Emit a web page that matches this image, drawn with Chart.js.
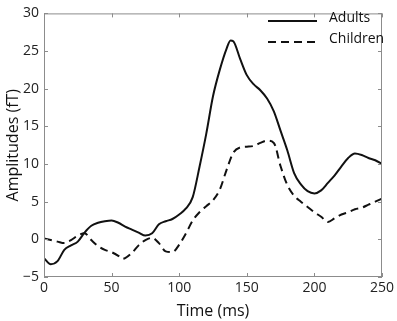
<!DOCTYPE html>
<html>
<head>
<meta charset="utf-8">
<script src="https://cdn.jsdelivr.net/npm/chart.js@4"></script>
<style>
  html, body { margin: 0; padding: 0; background: #fff; }
  #wrap { width: 397px; height: 321px; }
</style>
</head>
<body>
<div id="wrap"><canvas id="chart" width="397" height="321"></canvas></div>
<script>
// Data (time in ms, amplitude in fT)
const adultsTime = [0, 5, 10, 15, 20, 25, 30, 35, 40, 45, 50, 55, 60, 65, 70, 75, 80, 85, 90, 95, 100,
  105, 110, 115, 120, 125, 130, 135, 138, 140, 145, 150, 155, 160, 165, 170, 175, 180, 185, 190,
  195, 200, 205, 210, 215, 220, 225, 230, 235, 240, 245, 250];
const adultsAmp = [-2.5, -3.3, -2.9, -1.4, -0.8, -0.3, 0.9, 1.8, 2.2, 2.4, 2.5, 2.2, 1.7, 1.3, 0.9, 0.5, 0.8, 2.0, 2.4, 2.7, 3.3,
  4.1, 5.6, 9.6, 14.0, 19.0, 22.5, 25.3, 26.4, 26.3, 24.0, 21.8, 20.6, 19.8, 18.7, 17.0, 14.4, 11.8, 8.8, 7.3,
  6.4, 6.1, 6.5, 7.5, 8.5, 9.7, 10.8, 11.4, 11.2, 10.8, 10.5, 10.0];

const childrenTime = [0, 5, 10, 15, 20, 25, 30, 35, 40, 45, 50, 55, 58, 60, 65, 70, 75, 80, 85, 90, 95, 100,
  105, 110, 115, 120, 125, 130, 135, 140, 145, 150, 155, 160, 165, 170, 175, 180, 185, 190,
  195, 200, 205, 210, 215, 220, 225, 230, 235, 240, 245, 250];
const childrenAmp = [0.1, -0.1, -0.3, -0.5, -0.1, 0.5, 0.8, -0.1, -0.9, -1.4, -1.7, -2.2, -2.6, -2.5, -1.8, -0.8, -0.1, 0.2, -0.5, -1.6, -1.7, -0.7,
  0.8, 2.5, 3.6, 4.4, 5.2, 6.6, 9.2, 11.5, 12.2, 12.3, 12.4, 12.8, 13.1, 12.8, 9.7, 7.2, 5.8, 5.0,
  4.3, 3.6, 3.0, 2.3, 2.8, 3.3, 3.6, 4.0, 4.2, 4.6, 5.0, 5.4];

const xTicks = [0, 50, 100, 150, 200, 250];
const yTicks = [-5, 0, 5, 10, 15, 20, 25, 30];

const FONT = "'Open Sans', 'DejaVu Sans', sans-serif";

function toPoints(ts, vs) {
  return ts.map((t, i) => ({ x: t, y: vs[i] }));
}

// box around the plot, inward ticks on all four sides, legend inside top right
const matlabFrame = {
  id: 'matlabFrame',
  afterDatasetsDraw(chart) {
    const { ctx, chartArea: a, scales } = chart;
    ctx.save();
    ctx.strokeStyle = '#8c8c8c';
    ctx.lineWidth = 1;
    ctx.strokeRect(a.left + 0.5, a.top + 0.5, a.right - a.left - 1, a.bottom - a.top - 1);
    ctx.beginPath();
    xTicks.forEach(v => {
      const x = Math.round(scales.x.getPixelForValue(v)) + 0.5;
      ctx.moveTo(x, a.bottom); ctx.lineTo(x, a.bottom - 4);
      ctx.moveTo(x, a.top); ctx.lineTo(x, a.top + 4);
    });
    yTicks.forEach(v => {
      const y = Math.round(scales.y.getPixelForValue(v)) + 0.5;
      ctx.moveTo(a.left, y); ctx.lineTo(a.left + 4, y);
      ctx.moveTo(a.right, y); ctx.lineTo(a.right - 4, y);
    });
    ctx.stroke();

    // legend
    ctx.font = '14px ' + FONT;
    ctx.fillStyle = '#111';
    ctx.textBaseline = 'middle';
    chart.data.datasets.forEach((ds, i) => {
      const y = 21 + i * 21;
      ctx.strokeStyle = ds.borderColor;
      ctx.lineWidth = ds.borderWidth;
      ctx.setLineDash(ds.borderDash || []);
      ctx.beginPath();
      ctx.moveTo(268, y); ctx.lineTo(317, y);
      ctx.stroke();
      ctx.setLineDash([]);
      ctx.fillText(ds.label, 329, y - 3);
    });
    ctx.restore();
  }
};

new Chart(document.getElementById('chart'), {
  type: 'line',
  data: {
    datasets: [{
      label: 'Adults',
      data: toPoints(adultsTime, adultsAmp),
      borderColor: '#111',
      borderWidth: 2,
      pointRadius: 0,
      cubicInterpolationMode: 'monotone',
      fill: false,
    }, {
      label: 'Children',
      data: toPoints(childrenTime, childrenAmp),
      borderColor: '#111',
      borderWidth: 2,
      borderDash: [8, 5],
      pointRadius: 0,
      cubicInterpolationMode: 'monotone',
      fill: false,
    }],
  },
  options: {
    responsive: false,
    animation: false,
    layout: { padding: { top: 7, right: 12, left: 0, bottom: 0 } },
    plugins: {
      legend: { display: false },
      tooltip: { enabled: false },
    },
    scales: {
      x: {
        type: 'linear',
        min: 0, max: 250,
        afterBuildTicks: s => { s.ticks = xTicks.map(v => ({ value: v })); },
        afterFit: s => { s.height = 44; },
        grid: { display: false, drawTicks: false },
        border: { display: false },
        ticks: { color: '#222', font: { family: FONT, size: 14 }, padding: 3, maxRotation: 0 },
        title: { display: true, text: 'Time (ms)', color: '#111', font: { family: FONT, size: 16 }, padding: { top: 0, bottom: 0 } },
      },
      y: {
        min: -5, max: 30,
        afterBuildTicks: s => { s.ticks = yTicks.map(v => ({ value: v })); },
        afterFit: s => { s.width = 44; },
        grid: { display: false, drawTicks: false },
        border: { display: false },
        ticks: { color: '#222', font: { family: FONT, size: 14 }, padding: 5, callback: v => v < 0 ? '\u2212' + Math.abs(v) : v },
        title: { display: true, text: 'Amplitudes (fT)', color: '#111', font: { family: FONT, size: 16 }, padding: { top: 4, bottom: 0 } },
      },
    },
  },
  plugins: [matlabFrame],
});
</script>
</body>
</html>
